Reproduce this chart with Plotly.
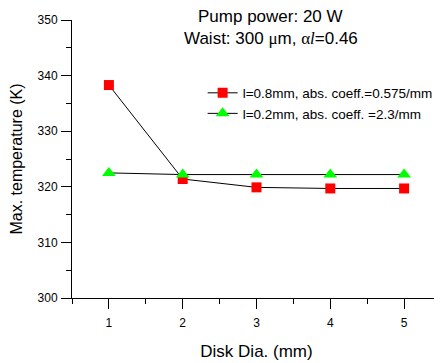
import plotly.graph_objects as go

disk_dia = [1, 2, 3, 4, 5]
temp_l08 = [338.3, 321.4, 319.9, 319.7, 319.7]
temp_l02 = [322.5, 322.2, 322.2, 322.2, 322.2]
name_l08 = "l=0.8mm, abs. coeff.=0.575/mm"
name_l02 = "l=0.2mm, abs. coeff. =2.3/mm"

fig = go.Figure()
fig.add_trace(go.Scatter(x=disk_dia, y=temp_l08, mode="lines+markers", name=name_l08,
                         line=dict(color="black", width=1),
                         marker=dict(symbol="square", size=10, color="#ff0000")))
fig.add_trace(go.Scatter(x=disk_dia, y=temp_l02, mode="lines+markers", name=name_l02,
                         line=dict(color="black", width=1),
                         marker=dict(symbol="triangle-up", size=12, color="#00ff00")))

axis_common = dict(showline=True, linecolor="black", linewidth=1, ticks="outside",
                   ticklen=10, tickcolor="black", showgrid=False, zeroline=False,
                   tickfont=dict(family="Arial", size=12, color="black"),
                   mirror=False, automargin=False)
fig.update_xaxes(range=[0.5, 5.5], dtick=1, tick0=0, ticklabelstandoff=4,
                 minor=dict(ticks="outside", ticklen=5, dtick=0.5, tick0=0.5, tickcolor="black"),
                 title=dict(text="Disk Dia. (mm)", font=dict(family="Arial", size=17, color="black"), standoff=15),
                 **axis_common)
fig.update_yaxes(range=[300, 350], dtick=10, ticklabelstandoff=1,
                 minor=dict(ticks="outside", ticklen=5, dtick=5, tickcolor="black"),
                 title=dict(text="Max. temperature (K)", font=dict(family="Arial", size=16, color="black"), standoff=12),
                 **axis_common)

fig.add_annotation(xref="paper", yref="paper", x=0.539, y=1.012, xanchor="center", yanchor="middle",
                   text="Pump power: 20 W", showarrow=False,
                   font=dict(family="Arial", size=17, color="black"))
fig.add_annotation(xref="paper", yref="paper", x=0.539, y=0.933, xanchor="center", yanchor="middle",
                   text="Waist: 300 <span style='font-family:Times New Roman'>μ</span>m, "
                        "<span style='font-family:Times New Roman'>α<i>l</i></span>=0.46",
                   showarrow=False, font=dict(family="Arial", size=17, color="black"))

fig.update_layout(width=434, height=355, margin=dict(l=64, r=1, t=12, b=65),
                  plot_bgcolor="white", paper_bgcolor="white",
                  showlegend=True,
                  legend=dict(x=0.354, y=0.793, xanchor="left", yanchor="top",
                              bgcolor="rgba(0,0,0,0)", font=dict(family="Arial", size=13.5, color="black"),
                              tracegroupgap=0, itemwidth=30))

fig.write_html("out.html")
